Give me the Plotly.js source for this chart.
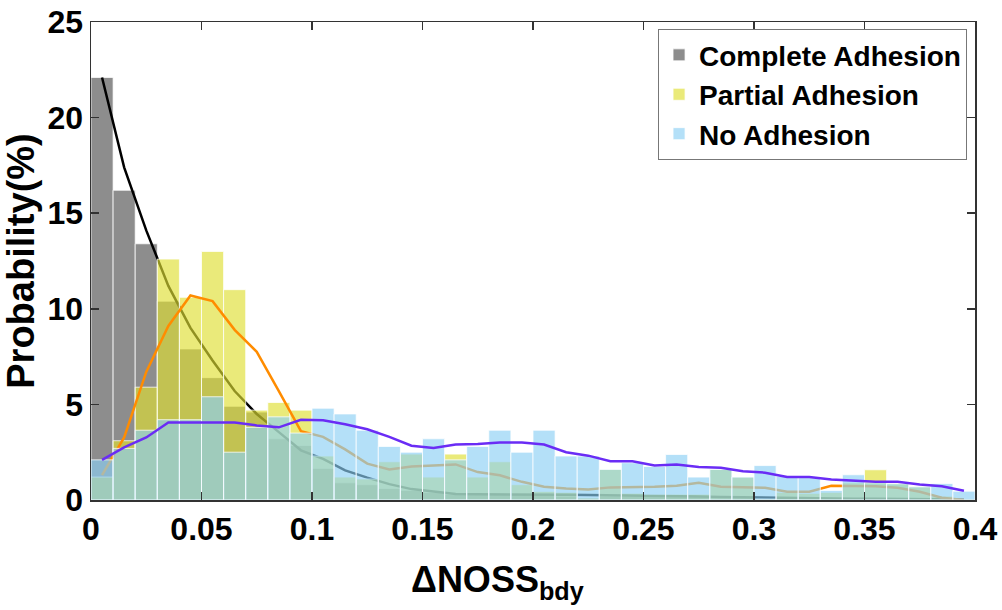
<!DOCTYPE html>
<html>
<head>
<meta charset="utf-8">
<script src="https://cdn.plot.ly/plotly-3.0.1.min.js"></script>
<style>
  html, body { margin: 0; padding: 0; background: #fff; }
  #plot { width: 1002px; height: 610px; }
</style>
</head>
<body>
<div id="plot"></div>
<script>
// bin centers (bin width 0.01)
let binCenters = [0.005, 0.015, 0.025, 0.035, 0.045, 0.055, 0.065, 0.075, 0.085, 0.095,
                  0.105, 0.115, 0.125, 0.135, 0.145, 0.155, 0.165, 0.175, 0.185, 0.195,
                  0.205, 0.215, 0.225, 0.235, 0.245, 0.255, 0.265, 0.275, 0.285, 0.295,
                  0.305, 0.315, 0.325, 0.335, 0.345, 0.355, 0.365, 0.375, 0.385, 0.395];

// histogram heights (%)
let completeAdh = [22.1, 16.2, 13.4, 10.4, 7.9, 6.4, 4.9, 4.6, 3.2, 2.85,
                   1.65, 0.9, 0.8, 0.6, 0.5, 0.4, 0.3, 0.3, 0.3, 0.3,
                   0.3, 0.2, 0.1, 0.2, 0.2, 0.2, 0.2, 0.2, 0.1, 0.1,
                   0.05, 0.1, 0.1, 0.1, 0.1, 0.1, 0.05, 0.05, 0.05, 0.05];
let partialAdh = [1.2, 3.1, 5.9, 12.6, 10.6, 13.0, 11.0, 4.7, 5.1, 4.7,
                  2.3, 1.2, 1.1, 2.0, 2.4, 1.2, 2.4, 1.2, 2.0, 0.8,
                  0.45, 0.4, 0.1, 1.6, 0.35, 0.3, 0.3, 0.3, 1.6, 1.2,
                  0.05, 0.4, 0.35, 0.4, 0.9, 1.58, 0.85, 0.69, 0.2, 0.05];
let noAdh = [2.1, 2.7, 3.65, 4.2, 4.2, 5.4, 2.5, 3.8, 4.35, 3.5,
             4.8, 4.5, 3.65, 2.8, 2.5, 3.2, 2.1, 2.8, 3.65, 2.5,
             3.65, 2.3, 2.3, 1.6, 1.95, 1.75, 2.38, 1.2, 1.6, 1.2,
             1.8, 1.24, 1.17, 0.5, 1.32, 0.9, 0.85, 0.69, 0.86, 0.46];

// smoothed curves at bin centers
let completeFit = [22.1, 17.4, 14.1, 11.2, 9.0, 7.3, 5.7, 4.5, 3.55, 2.6,
                   2.15, 1.55, 1.17, 0.83, 0.57, 0.43, 0.31, 0.3, 0.3, 0.28,
                   0.27, 0.27, 0.26, 0.25, 0.24, 0.22, 0.2, 0.18, 0.16, 0.14,
                   0.12, 0.1, 0.1, 0.08, 0.07, 0.06, 0.05, 0.04, 0.03, 0.02];
let partialFit = [1.3, 3.27, 6.7, 9.1, 10.7, 10.4, 8.9, 7.75, 5.7, 3.6,
                  3.3, 2.65, 1.9, 1.6, 1.75, 1.8, 1.86, 1.46, 1.29, 0.95,
                  0.69, 0.6, 0.55, 0.66, 0.66, 0.69, 0.74, 0.9, 0.69, 0.66,
                  0.64, 0.43, 0.43, 0.74, 0.74, 0.72, 0.64, 0.43, 0.12, 0.0];
let noFit = [2.1, 2.75, 3.27, 4.05, 4.05, 4.05, 4.05, 3.9, 3.8, 4.2,
             4.17, 3.96, 3.7, 3.3, 2.84, 2.72, 2.9, 2.93, 3.01, 3.01,
             2.9, 2.5, 2.32, 2.03, 2.03, 1.8, 1.86, 1.72, 1.69, 1.5,
             1.43, 1.2, 1.2, 1.07, 1.0, 0.95, 0.95, 0.81, 0.72, 0.48];

// tick labels
let xTicks = [0, 0.05, 0.1, 0.15, 0.2, 0.25, 0.3, 0.35, 0.4];
let xTickText = ["0", "0.05", "0.1", "0.15", "0.2", "0.25", "0.3", "0.35", "0.4"];
let yTicks = [0, 5, 10, 15, 20, 25];

let edge = {color: "rgba(255,255,255,0.75)", width: 1};

// each group on its own overlaid axes so the draw order is bar, line, bar, line...
let traces = [
    {x: binCenters, y: completeAdh, type: "bar", width: 0.01, name: "Complete Adhesion",
     marker: {color: "rgba(80,80,80,0.65)", line: edge}, xaxis: "x", yaxis: "y"},
    {x: binCenters, y: completeFit, type: "scatter", mode: "lines", showlegend: false,
     line: {color: "#000000", width: 2.5}, xaxis: "x", yaxis: "y"},
    {x: binCenters, y: partialAdh, type: "bar", width: 0.01, name: "Partial Adhesion",
     marker: {color: "rgba(222,222,50,0.65)", line: edge}, xaxis: "x2", yaxis: "y2"},
    {x: binCenters, y: partialFit, type: "scatter", mode: "lines", showlegend: false,
     line: {color: "#ff8c00", width: 2.5}, xaxis: "x2", yaxis: "y2"},
    {x: binCenters, y: noAdh, type: "bar", width: 0.01, name: "No Adhesion",
     marker: {color: "rgba(140,208,245,0.65)", line: edge}, xaxis: "x3", yaxis: "y3"},
    {x: binCenters, y: noFit, type: "scatter", mode: "lines", showlegend: false,
     line: {color: "#6a2cf5", width: 2.5}, xaxis: "x3", yaxis: "y3"}
];

let fam = "Liberation Sans, Arial, sans-serif";
let tickFont = {family: fam, size: 32, color: "#000", weight: "bold"};
let hidden = {range: [0, 0.4], visible: false, fixedrange: true};
let hiddenY = {range: [0, 25], visible: false, fixedrange: true};

var layout = {
    width: 1002,
    height: 610,
    margin: {l: 91, r: 27, t: 22, b: 110},
    paper_bgcolor: "#ffffff",
    plot_bgcolor: "#ffffff",
    barmode: "overlay",
    bargap: 0,
    font: {family: fam, color: "#000"},
    xaxis: {
        range: [0, 0.4], tickmode: "array", tickvals: xTicks, ticktext: xTickText,
        showline: true, linecolor: "#333", linewidth: 1.5, mirror: "ticks",
        ticks: "inside", ticklen: 8, tickcolor: "#333", tickwidth: 1.5,
        showgrid: false, zeroline: false,
        tickfont: tickFont
    },
    yaxis: {
        range: [0, 25], tickmode: "array", tickvals: yTicks,
        showline: true, linecolor: "#333", linewidth: 1.5, mirror: "ticks",
        ticks: "inside", ticklen: 8, tickcolor: "#333", tickwidth: 1.5,
        showgrid: false, zeroline: false,
        tickfont: tickFont,
        title: {text: "<b>Probability(%)</b>", font: {size: 38, color: "#000"}, standoff: 8}
    },
    xaxis2: Object.assign({overlaying: "x"}, hidden),
    yaxis2: Object.assign({overlaying: "y"}, hiddenY),
    xaxis3: Object.assign({overlaying: "x"}, hidden),
    yaxis3: Object.assign({overlaying: "y"}, hiddenY),
    annotations: [{
        text: "<b>ΔNOSS<sub>bdy</sub></b>", xref: "paper", yref: "paper",
        x: 0.46, y: -0.12, xanchor: "center", yanchor: "top", showarrow: false,
        font: {size: 36, color: "#000"}
    }],
    legend: {
        x: 0.991, xanchor: "right", y: 0.985, yanchor: "top",
        bgcolor: "#ffffff", bordercolor: "#777", borderwidth: 1,
        font: {size: 28, color: "#000", weight: "bold"},
        itemwidth: 30, tracegroupgap: 0
    },
    showlegend: true
};

Plotly.newPlot("plot", traces, layout, {displayModeBar: false, staticPlot: true});
</script>
</body>
</html>
